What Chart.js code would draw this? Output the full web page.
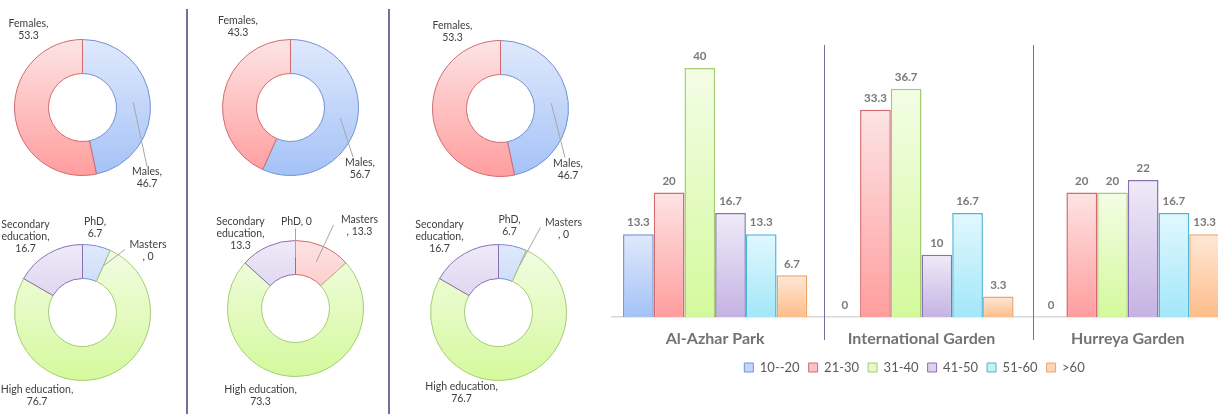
<!DOCTYPE html>
<html>
<head>
<meta charset="utf-8">
<script src="https://cdn.jsdelivr.net/npm/chart.js@4.4.0/dist/chart.umd.min.js"></script>
<style>
  html, body { margin: 0; padding: 0; background: #fff; }
  body { width: 1218px; height: 414px; overflow: hidden; position: relative; font-family: Lato, sans-serif; }
  .box { position: absolute; }
  .sep { position: absolute; background: #7f6a9c; }
</style>
</head>
<body>
<div id="donuts"></div>
<div class="box" style="left:598px;top:0;width:633px;height:414px"><canvas id="bars"></canvas></div>
<!-- divider lines between the panels -->
<div class="sep" style="left:186px;top:9px;width:2px;height:405px"></div>
<div class="sep" style="left:388px;top:9px;width:2px;height:405px"></div>
<div class="sep" style="left:823.5px;top:45px;width:1.5px;height:295px"></div>
<div class="sep" style="left:1032.5px;top:45px;width:1.5px;height:295px"></div>
<script>
// ---- data ----
const gardens = ['Al-Azhar Park', 'International Garden', 'Hurreya Garden'];

const genderCats = ['Males', 'Females'];
const genderAlAzhar = [46.7, 53.3];
const genderInternational = [56.7, 43.3];
const genderHurreya = [46.7, 53.3];

const eduCats = ['PhD', 'Masters', 'High education', 'Secondary education'];
const eduAlAzhar = [6.7, 0, 76.7, 16.7];
const eduInternational = [0, 13.3, 73.3, 13.3];
const eduHurreya = [6.7, 0, 76.7, 16.7];

const ageGroups = ['10--20', '21-30', '31-40', '41-50', '51-60', '>60'];
const age10to20 = [13.3, 0, 0];
const age21to30 = [20, 33.3, 20];
const age31to40 = [40, 36.7, 20];
const age41to50 = [16.7, 10, 22];
const age51to60 = [13.3, 16.7, 16.7];
const ageOver60 = [6.7, 3.3, 13.3];

// ---- styles ----
const tones = {
  blue:   { top: '#e0e9fc', bottom: '#a4c2f7', line: '#6f93d3', key: '#c3d6f9' },
  red:    { top: '#fde4e5', bottom: '#ff9d9e', line: '#d36a6d', key: '#fcc2c3' },
  green:  { top: '#f3fde6', bottom: '#d4f99c', line: '#a6cc73', key: '#e4fbc4' },
  purple: { top: '#efebf8', bottom: '#c5b3e3', line: '#8a70b2', key: '#dcd2ef' },
  cyan:   { top: '#e1f8fe', bottom: '#a2e7f9', line: '#4db6d6', key: '#c3effb' },
  orange: { top: '#fee8d8', bottom: '#fdbd8a', line: '#f2a366', key: '#fdd6b8' }
};
const ageTones = ['blue', 'red', 'green', 'purple', 'cyan', 'orange'];
const genderTones = ['blue', 'red'];
const eduTones = ['blue', 'red', 'green', 'purple'];

function vGrad(chart, top, bottom, t) {
  const g = chart.ctx.createLinearGradient(0, top, 0, bottom);
  g.addColorStop(0, t.top);
  g.addColorStop(1, t.bottom);
  return g;
}

// labels for the doughnut slices, drawn around the ring
const sliceLabels = {
  id: 'sliceLabels',
  afterDatasetsDraw(chart, args, opts) {
    const ctx = chart.ctx;
    const area = chart.chartArea;
    const cx = (area.left + area.right) / 2;
    const cy = (area.top + area.bottom) / 2;
    const meta = chart.getDatasetMeta(0);
    const names = chart.data.labels;
    const vals = chart.data.datasets[0].data;
    ctx.save();
    ctx.font = '10.5px Lato';
    ctx.textAlign = 'center';
    ctx.textBaseline = 'middle';
    opts.items.forEach((it, i) => {
      if (it.tip) {
        const p = meta.data[i].tooltipPosition(true);
        ctx.strokeStyle = '#a6a6a6';
        ctx.lineWidth = 1;
        ctx.beginPath();
        ctx.moveTo(p.x, p.y);
        ctx.lineTo(cx + it.tip[0], cy + it.tip[1]);
        ctx.stroke();
      }
      const name = it.wrap ? names[i].replace(' ', '|') : names[i];
      const lines = it.fmt.replace('{n}', name).replace('{v}', vals[i]).split('|');
      ctx.fillStyle = '#404040';
      lines.forEach((t, k) => ctx.fillText(t, cx + it.at[0], cy + it.at[1] + k * 12));
    });
    ctx.restore();
  }
};

const ringR = 68.5, ringPad = 32;
const donuts = [
  { cx: 82.5, cy: 107.5, cats: genderCats, vals: genderAlAzhar, tones: genderTones, items: [
    { fmt: '{n},|{v}', at: [64.5, 64.5], tip: [64.5, 59] },
    { fmt: '{n},|{v}', at: [-54, -83.5] } ] },
  { cx: 290.5, cy: 107.5, cats: genderCats, vals: genderInternational, tones: genderTones, items: [
    { fmt: '{n},|{v}', at: [69.5, 55.5], tip: [62.5, 49.5] },
    { fmt: '{n},|{v}', at: [-52.5, -86.5] } ] },
  { cx: 500.5, cy: 108, cats: genderCats, vals: genderHurreya, tones: genderTones, items: [
    { fmt: '{n},|{v}', at: [67.5, 55], tip: [64.5, 49] },
    { fmt: '{n},|{v}', at: [-48, -83] } ] },
  { cx: 82.5, cy: 312, cats: eduCats, vals: eduAlAzhar, tones: eduTones, items: [
    { fmt: '{n},|{v}', at: [12.5, -91] },
    { fmt: '{n}|, {v}', at: [65.5, -68], tip: [42.5, -63] },
    { fmt: '{n},|{v}', at: [-45.5, 77] },
    { fmt: '{n},|{v}', at: [-57, -88], wrap: true } ] },
  { cx: 295, cy: 308.5, cats: eduCats, vals: eduInternational, tones: eduTones, items: [
    { fmt: '{n}, {v}', at: [1, -86.5], tip: [0, -80] },
    { fmt: '{n}|, {v}', at: [64, -88.5], tip: [38, -83.5] },
    { fmt: '{n},|{v}', at: [-35, 81.5] },
    { fmt: '{n},|{v}', at: [-55, -86.5], wrap: true } ] },
  { cx: 498, cy: 312, cats: eduCats, vals: eduHurreya, tones: eduTones, items: [
    { fmt: '{n},|{v}', at: [11, -93] },
    { fmt: '{n}|, {v}', at: [65, -90], tip: [42, -85] },
    { fmt: '{n},|{v}', at: [-37, 74] },
    { fmt: '{n},|{v}', at: [-59, -88], wrap: true } ] }
];

const holder = document.getElementById('donuts');
donuts.forEach(d => {
  const size = 2 * (ringR + ringPad);
  const box = document.createElement('div');
  box.className = 'box';
  box.style.left = (d.cx - size / 2) + 'px';
  box.style.top = (d.cy - size / 2) + 'px';
  box.style.width = size + 'px';
  box.style.height = size + 'px';
  const cv = document.createElement('canvas');
  box.appendChild(cv);
  holder.appendChild(box);

  new Chart(cv, {
    type: 'doughnut',
    data: {
      labels: d.cats,
      datasets: [{
        data: d.vals,
        backgroundColor: c => {
          const t = tones[d.tones[c.dataIndex]];
          const a = c.chart.chartArea;
          if (!a) return t.key;
          return vGrad(c.chart, a.top, a.bottom, t);
        },
        borderColor: d.tones.map(k => tones[k].line),
        borderWidth: 1,
        offset: 0,
        hoverOffset: 0
      }]
    },
    options: {
      responsive: true,
      maintainAspectRatio: false,
      animation: false,
      cutout: '50%',
      layout: { padding: ringPad },
      plugins: {
        legend: { display: false },
        tooltip: { enabled: false },
        sliceLabels: { items: d.items }
      }
    },
    plugins: [sliceLabels]
  });
});

// ---- grouped bar chart ----
const valueLabels = {
  id: 'valueLabels',
  afterDatasetsDraw(chart) {
    const ctx = chart.ctx;
    ctx.save();
    ctx.font = 'bold 11.5px Lato';
    ctx.fillStyle = '#7a7a7a';
    ctx.textAlign = 'center';
    ctx.textBaseline = 'middle';
    chart.data.datasets.forEach((ds, i) => {
      chart.getDatasetMeta(i).data.forEach((bar, j) => {
        ctx.fillText(String(ds.data[j]), bar.x, bar.y - 11.5);
      });
    });
    ctx.restore();
  }
};

const ageSeries = [age10to20, age21to30, age31to40, age41to50, age51to60, ageOver60];

new Chart(document.getElementById('bars'), {
  type: 'bar',
  data: {
    labels: gardens,
    datasets: ageGroups.map((g, i) => {
      const t = tones[ageTones[i]];
      return {
        label: g,
        data: ageSeries[i],
        backgroundColor: c => {
          const ch = c.chart;
          if (!ch.chartArea) return t.key;
          const y = ch.scales.y;
          const top = y.getPixelForValue(c.raw);
          const base = y.getPixelForValue(0);
          if (base - top < 1) return t.key;
          return vGrad(ch, top, base, t);
        },
        borderColor: t.line,
        borderWidth: 1.5,
        categoryPercentage: 0.893,
        barPercentage: 1
      };
    })
  },
  options: {
    responsive: true,
    maintainAspectRatio: false,
    animation: false,
    layout: { padding: { top: 37, bottom: 30, left: 0, right: 0 } },
    scales: {
      x: {
        grid: { display: false, drawTicks: false },
        border: { color: '#d9d9d9', width: 1.5 },
        ticks: { color: '#737373', padding: 12, font: { family: 'Lato', size: 16, weight: 'bold' } },
        afterFit: s => { s.height = 35; }
      },
      y: {
        min: 0,
        max: 45,
        grid: { display: false, drawTicks: false },
        border: { display: false },
        ticks: { display: false },
        afterFit: s => { s.width = 14; }
      }
    },
    plugins: {
      tooltip: { enabled: false },
      legend: {
        position: 'bottom',
        labels: {
          boxWidth: 9,
          boxHeight: 9,
          padding: 9,
          color: '#595959',
          font: { family: 'Lato', size: 13 },
          generateLabels: ch => ch.data.datasets.map((ds, i) => ({
            text: ds.label,
            fillStyle: tones[ageTones[i]].key,
            strokeStyle: tones[ageTones[i]].line,
            lineWidth: 1,
            hidden: false,
            datasetIndex: i,
            fontColor: '#595959'
          }))
        }
      }
    }
  },
  plugins: [valueLabels]
});
</script>
</body>
</html>
